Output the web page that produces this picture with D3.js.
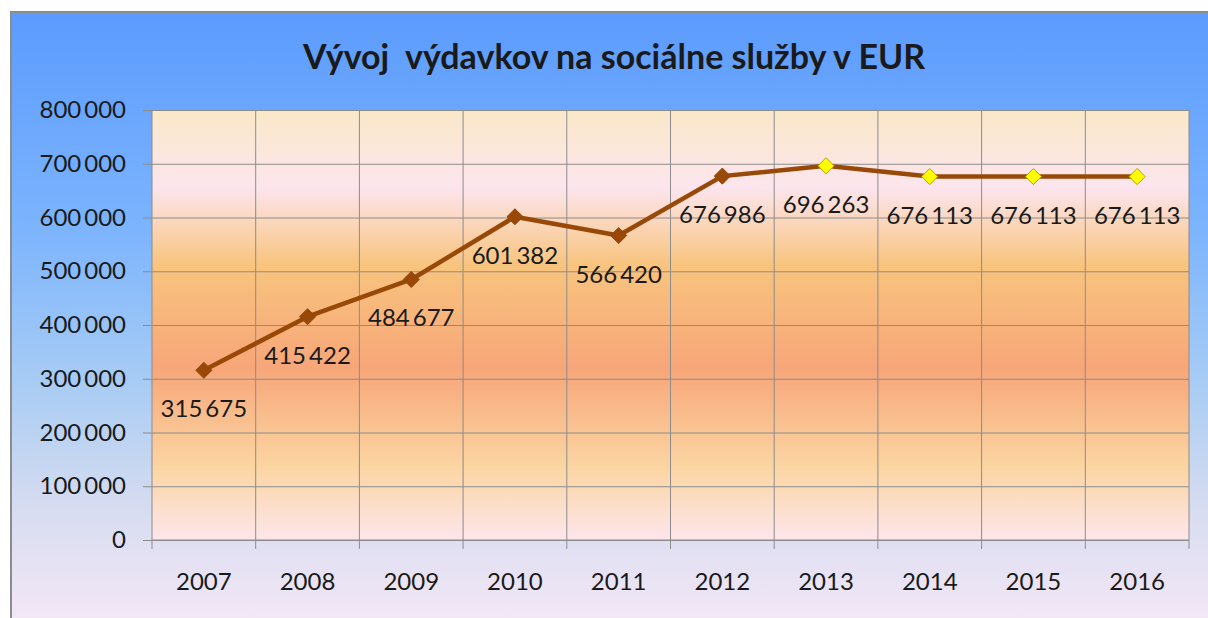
<!DOCTYPE html>
<html>
<head>
<meta charset="utf-8">
<script src="https://cdn.jsdelivr.net/npm/d3@7"></script>
<style>
  body { margin: 0; background: #fff; }
  text { font-family: Lato, "Noto Sans", sans-serif; }
</style>
</head>
<body>
<div id="chart"></div>
<script>
var years = ["2007", "2008", "2009", "2010", "2011", "2012", "2013", "2014", "2015", "2016"];
var spending = [315675, 415422, 484677, 601382, 566420, 676986, 696263, 676113, 676113, 676113];
var plannedYears = ["2013", "2014", "2015", "2016"];
var yTicks = [0, 100000, 200000, 300000, 400000, 500000, 600000, 700000, 800000];
var title = "Vývoj  výdavkov na sociálne služby v EUR";

var W = 1208, H = 618;
var margin = { top: 110, left: 152, right: 19, bottom: 78 },
  width = W - margin.left - margin.right,
  height = H - margin.top - margin.bottom;

var root = d3.select("#chart").append("svg")
  .attr("width", W)
  .attr("height", H);

var defs = root.append("defs");

var outerGrad = defs.append("linearGradient")
  .attr("id", "outer-grad")
  .attr("x1", 0).attr("y1", 0).attr("x2", 0).attr("y2", 1);
[[0, "#5b9bfd"], [0.35, "#7cb4fd"], [0.6, "#a8ccf4"], [0.8, "#d6dcf0"], [1, "#f6e8f6"]]
  .forEach(function(s) { outerGrad.append("stop").attr("offset", s[0]).attr("stop-color", s[1]) })

var plotGrad = defs.append("linearGradient")
  .attr("id", "plot-grad")
  .attr("x1", 0).attr("y1", 0).attr("x2", 0).attr("y2", 1);
[[0, "#fae8c8"], [0.18, "#fde5ee"], [0.36, "#f8c47e"], [0.6, "#f7a679"], [0.83, "#fbd5a2"], [1, "#fde6ec"]]
  .forEach(function(s) { plotGrad.append("stop").attr("offset", s[0]).attr("stop-color", s[1]) })

// chart frame
root.append("rect")
  .attr("x", 11).attr("y", 12)
  .attr("width", W).attr("height", H)
  .attr("fill", "url(#outer-grad)")
  .attr("stroke", "#8c8c8c")
  .attr("stroke-width", 2)

root.append("text")
  .attr("x", 614)
  .attr("y", 69)
  .attr("text-anchor", "middle")
  .attr("font-size", 34)
  .attr("font-weight", "bold")
  .attr("fill", "#1a1a1a")
  .style("white-space", "pre")
  .text(title)

var svg = root.append("g")
  .attr("transform", "translate(" + margin.left + "," + margin.top + ")");

var xPositionScale = d3.scaleBand()
  .domain(years)
  .range([0, width])

var yPositionScale = d3.scaleLinear()
  .domain([0, 800000])
  .range([height, 0])

svg.append("rect")
  .attr("width", width)
  .attr("height", height)
  .attr("fill", "url(#plot-grad)")

var fmt = function(d) { return d3.format(",")(d).replace(/,/g, "\u2009") }

// y axis with gridlines
var yAxis = d3.axisLeft(yPositionScale)
  .tickValues(yTicks)
  .tickSize(-width)
  .tickPadding(26)
  .tickFormat(fmt)
var yg = svg.append("g")
  .attr("class", "axis y-axis")
  .call(yAxis)
yg.selectAll(".tick line")
  .attr("x1", -9)
  .attr("stroke", "#8c8c8c")
yg.selectAll(".tick text")
  .attr("font-size", 24)
  .attr("fill", "#1a1a1a")
yg.select(".domain").remove()

// vertical grid at band edges
var edges = years.map(function(d) { return xPositionScale(d) }).concat([width])
svg.append("g")
  .selectAll("line")
  .data(edges)
  .enter().append("line")
  .attr("x1", function(d) { return d })
  .attr("x2", function(d) { return d })
  .attr("y1", 0)
  .attr("y2", height + 9)
  .attr("stroke", "#8c8c8c")

// x labels
svg.append("g")
  .selectAll("text")
  .data(years)
  .enter().append("text")
  .attr("x", function(d) { return xPositionScale(d) + xPositionScale.bandwidth() / 2 })
  .attr("y", height + 50)
  .attr("text-anchor", "middle")
  .attr("font-size", 24)
  .attr("fill", "#1a1a1a")
  .text(function(d) { return d })

svg.append("line")
  .attr("x1", 0).attr("x2", width)
  .attr("y1", height).attr("y2", height)
  .attr("stroke", "#8c8c8c")

var points = years.map(function(y, i) { return { year: y, value: spending[i] } })
var cx = function(d) { return xPositionScale(d.year) + xPositionScale.bandwidth() / 2 }
var cy = function(d) { return yPositionScale(d.value) }

var line = d3.line().x(cx).y(cy)
svg.append("path")
  .datum(points)
  .attr("d", line)
  .attr("fill", "none")
  .attr("stroke", "#984807")
  .attr("stroke-width", 4.5)
  .attr("stroke-linejoin", "round")

svg.selectAll(".marker")
  .data(points)
  .enter().append("path")
  .attr("class", "marker")
  .attr("d", d3.symbol().type(d3.symbolDiamond2).size(165))
  .attr("transform", function(d) { return "translate(" + cx(d) + "," + cy(d) + ")" })
  .attr("fill", function(d) { return plannedYears.indexOf(d.year) >= 0 ? "#ffff00" : "#984807" })
  .attr("stroke", function(d) { return plannedYears.indexOf(d.year) >= 0 ? "#c49a00" : "#984807" })
  .attr("stroke-width", 1)

svg.selectAll(".value-label")
  .data(points)
  .enter().append("text")
  .attr("class", "value-label")
  .attr("x", cx)
  .attr("y", function(d) { return cy(d) + 47 })
  .attr("text-anchor", "middle")
  .attr("font-size", 24)
  .attr("fill", "#1a1a1a")
  .text(function(d) { return fmt(d.value) })
</script>
</body>
</html>
